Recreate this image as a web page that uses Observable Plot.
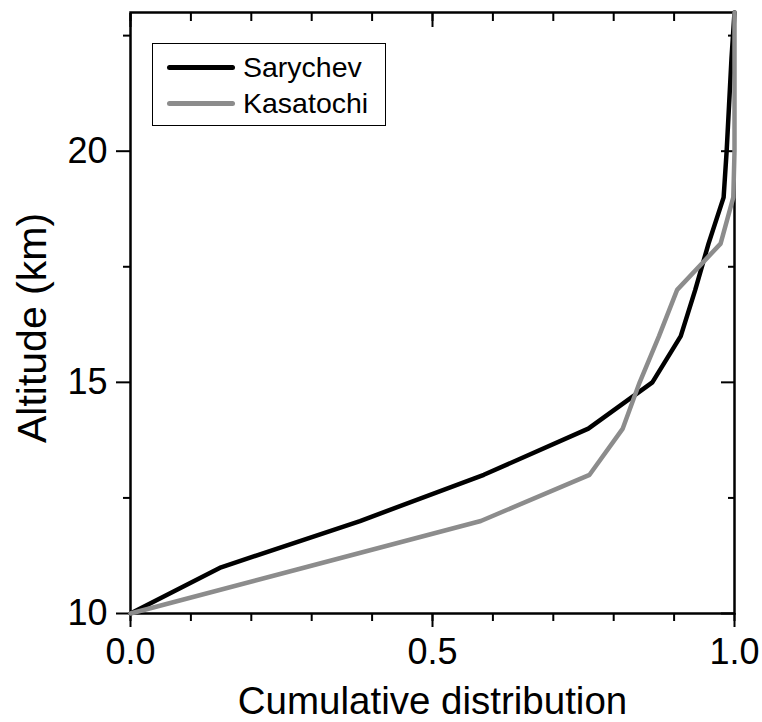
<!DOCTYPE html>
<html>
<head>
<meta charset="utf-8">
<script src="https://cdn.jsdelivr.net/npm/d3@7"></script>
<script src="https://cdn.jsdelivr.net/npm/@observablehq/plot@0.6"></script>
<style>
  html, body { margin: 0; padding: 0; background: #fff; }
  #wrap { position: relative; width: 762px; height: 722px; font-family: "Liberation Sans", Arial, sans-serif; }
  #legend { position: absolute; left: 152px; top: 43px; width: 232px; height: 81px; border: 1.5px solid #000; background: #fff; }
  .item { position: absolute; left: 0; display: flex; align-items: center; font-size: 28.5px; color: #000; }
  .swatch { display: inline-block; width: 68px; height: 5px; border-radius: 3px; margin-left: 14px; margin-right: 8px; }
</style>
</head>
<body>
<div id="wrap"></div>
<script>
// ---- data ----
const altitudes = [10, 11, 12, 13, 14, 15, 16, 17, 18, 19, 20, 21, 22, 23];
const sarychev  = [0, 0.15, 0.38, 0.585, 0.758, 0.864, 0.911, 0.935, 0.957, 0.982, 0.987, 0.991, 0.995, 1.0];
const kasatochi = [0, 0.29, 0.58, 0.76, 0.815, 0.843, 0.875, 0.905, 0.977, 0.998, 1.0, 1.0, 1.0, 1.0];
const seriesNames = ["Sarychev", "Kasatochi"];
const seriesColors = ["#000000", "#8c8c8c"];
const xMajorTicks = [0, 0.5, 1.0];
const xMinorTicks = [0, 0.1, 0.2, 0.3, 0.4, 0.5, 0.6, 0.7, 0.8, 0.9, 1.0];
const yMajorTicks = [10, 15, 20];
const yMinorTicks = [12.5, 17.5, 22.5];

const rows = [];
altitudes.forEach((a, i) => {
  rows.push({series: seriesNames[0], alt: a, cum: sarychev[i]});
});
altitudes.forEach((a, i) => {
  rows.push({series: seriesNames[1], alt: a, cum: kasatochi[i]});
});

const fmt = d3.format(".1f");
const tickStyle = {strokeWidth: 2, stroke: "#000"};

const chart = Plot.plot({
  width: 762,
  height: 722,
  marginLeft: 130,
  marginRight: 28,
  marginTop: 12,
  marginBottom: 109,
  style: {fontFamily: "'Liberation Sans', Arial, sans-serif", color: "#000", background: "#fff", overflow: "visible"},
  x: {domain: [0, 1]},
  y: {domain: [10, 23]},
  color: {domain: seriesNames, range: seriesColors},
  marks: [
    Plot.frame({stroke: "#000", strokeWidth: 2.5}),
    // bottom
    Plot.axisX({anchor: "bottom", ticks: xMinorTicks, tickSize: 8, tickFormat: () => "", label: null, ...tickStyle}),
    Plot.axisX({anchor: "bottom", ticks: xMajorTicks, tickSize: 14, tickPadding: 11, tickFormat: fmt, fontSize: 36, label: null, ...tickStyle}),
    // top (inward)
    Plot.axisX({anchor: "top", ticks: xMinorTicks, tickSize: -8, tickFormat: () => "", label: null, ...tickStyle}),
    Plot.axisX({anchor: "top", ticks: xMajorTicks, tickSize: -14, tickFormat: () => "", label: null, ...tickStyle}),
    // left
    Plot.axisY({anchor: "left", ticks: yMinorTicks, tickSize: 7, tickFormat: () => "", label: null, ...tickStyle}),
    Plot.axisY({anchor: "left", ticks: yMajorTicks, tickSize: 14, tickPadding: 9, fontSize: 36, label: null, ...tickStyle}),
    // right (inward)
    Plot.axisY({anchor: "right", ticks: yMinorTicks, tickSize: -7, tickFormat: () => "", label: null, ...tickStyle}),
    Plot.axisY({anchor: "right", ticks: yMajorTicks, tickSize: -14, tickFormat: () => "", label: null, ...tickStyle}),
    // titles
    Plot.text(["Cumulative distribution"], {frameAnchor: "bottom", dy: 100, lineAnchor: "bottom", textAnchor: "middle", fontSize: 38.5, fill: "#000"}),
    Plot.text(["Altitude (km)"], {frameAnchor: "left", dx: -98, dy: 15, rotate: -90, lineAnchor: "middle", textAnchor: "middle", fontSize: 41, fill: "#000"}),
    // lines
    Plot.line(rows, {x: "cum", y: "alt", z: "series", stroke: "series", strokeWidth: 4.5, strokeLinejoin: "miter", clip: false})
  ]
});

const wrap = document.getElementById("wrap");
wrap.appendChild(chart);

const legend = document.createElement("div");
legend.id = "legend";
seriesNames.forEach((name, i) => {
  const item = document.createElement("div");
  item.className = "item";
  item.style.top = (i === 0 ? 7 : 43) + "px";
  item.style.height = "32px";
  const sw = document.createElement("span");
  sw.className = "swatch";
  sw.style.background = seriesColors[i];
  const label = document.createElement("span");
  label.textContent = name;
  item.appendChild(sw);
  item.appendChild(label);
  legend.appendChild(item);
});
wrap.appendChild(legend);
</script>
</body>
</html>
